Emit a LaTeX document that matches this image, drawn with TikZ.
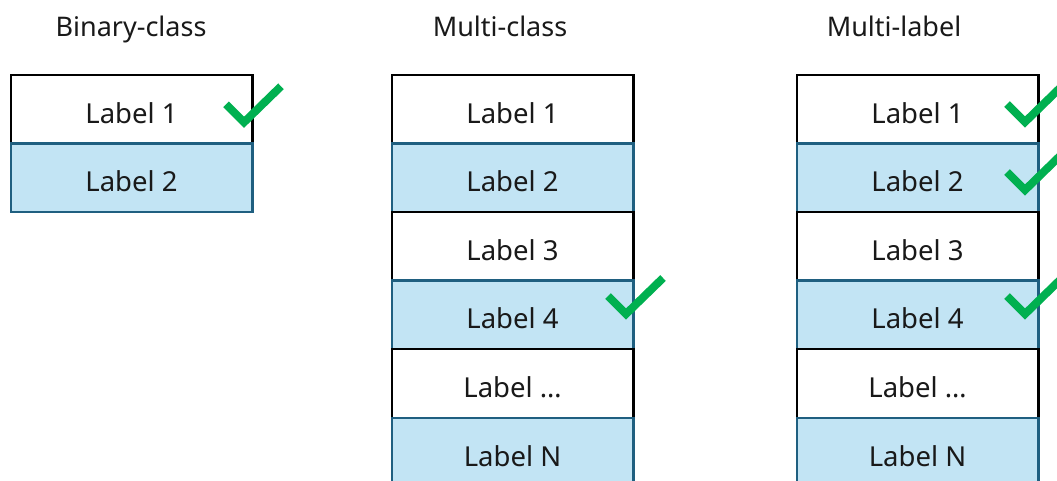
\documentclass[tikz,border=0pt]{standalone}
\usepackage{fontspec}
\setmainfont{Noto Sans}
\definecolor{boxblue}{HTML}{C2E4F4}
\definecolor{edgeblue}{HTML}{1F5F80}
\definecolor{checkgreen}{HTML}{00B050}
\begin{document}
\begin{tikzpicture}[x=1pt,y=-1pt,
  cell/.style={line width=2.5pt, minimum width=241.5pt, minimum height=68.6pt,
    inner sep=0pt, anchor=north west, text height=28pt, text depth=0pt,
    font=\fontsize{27.5}{32}\selectfont, text=black!90},
  whitecell/.style={cell, draw=black, fill=white},
  bluecell/.style={cell, draw=edgeblue, fill=boxblue},
  title/.style={anchor=base, font=\fontsize{27}{32}\selectfont, text=black!90},
  tick/.style={draw=checkgreen, line width=8pt, line cap=butt, line join=miter}]
\useasboundingbox (0,0) rectangle (1057,480);
\clip (0,0) rectangle (1057,480);
% titles
\node[title] (t1) at (131,36) {Binary-class};
\node[title] (t2) at (500,36) {Multi-class};
\node[title] (t3) at (894,36) {Multi-label};
% binary
\node[whitecell] (b1) at (9.5,73.5) {Label 1};
\node[bluecell]  (b2) at (9.5,142.1) {Label 2};
% multi-class
\node[whitecell] (c1) at (390.5,73.5) {Label 1};
\node[bluecell]  (c2) at (390.5,142.1) {Label 2};
\node[whitecell] (c3) at (390.5,210.7) {Label 3};
\node[bluecell]  (c4) at (390.5,279.3) {Label 4};
\node[whitecell] (c5) at (390.5,347.9) {Label \dots};
\node[bluecell]  (c6) at (390.5,416.5) {Label N};
% multi-label
\node[whitecell] (l1) at (795.5,73.5) {Label 1};
\node[bluecell]  (l2) at (795.5,142.1) {Label 2};
\node[whitecell] (l3) at (795.5,210.7) {Label 3};
\node[bluecell]  (l4) at (795.5,279.3) {Label 4};
\node[whitecell] (l5) at (795.5,347.9) {Label \dots};
\node[bluecell]  (l6) at (795.5,416.5) {Label N};
% check marks
\foreach \vx/\vy in {244/122.3, 626/314, 1025/122, 1025/190, 1025/314}{
  \draw[tick] (\vx-18,\vy-18) -- (\vx,\vy) -- (\vx+37,\vy-36);
}
\end{tikzpicture}
\end{document}
